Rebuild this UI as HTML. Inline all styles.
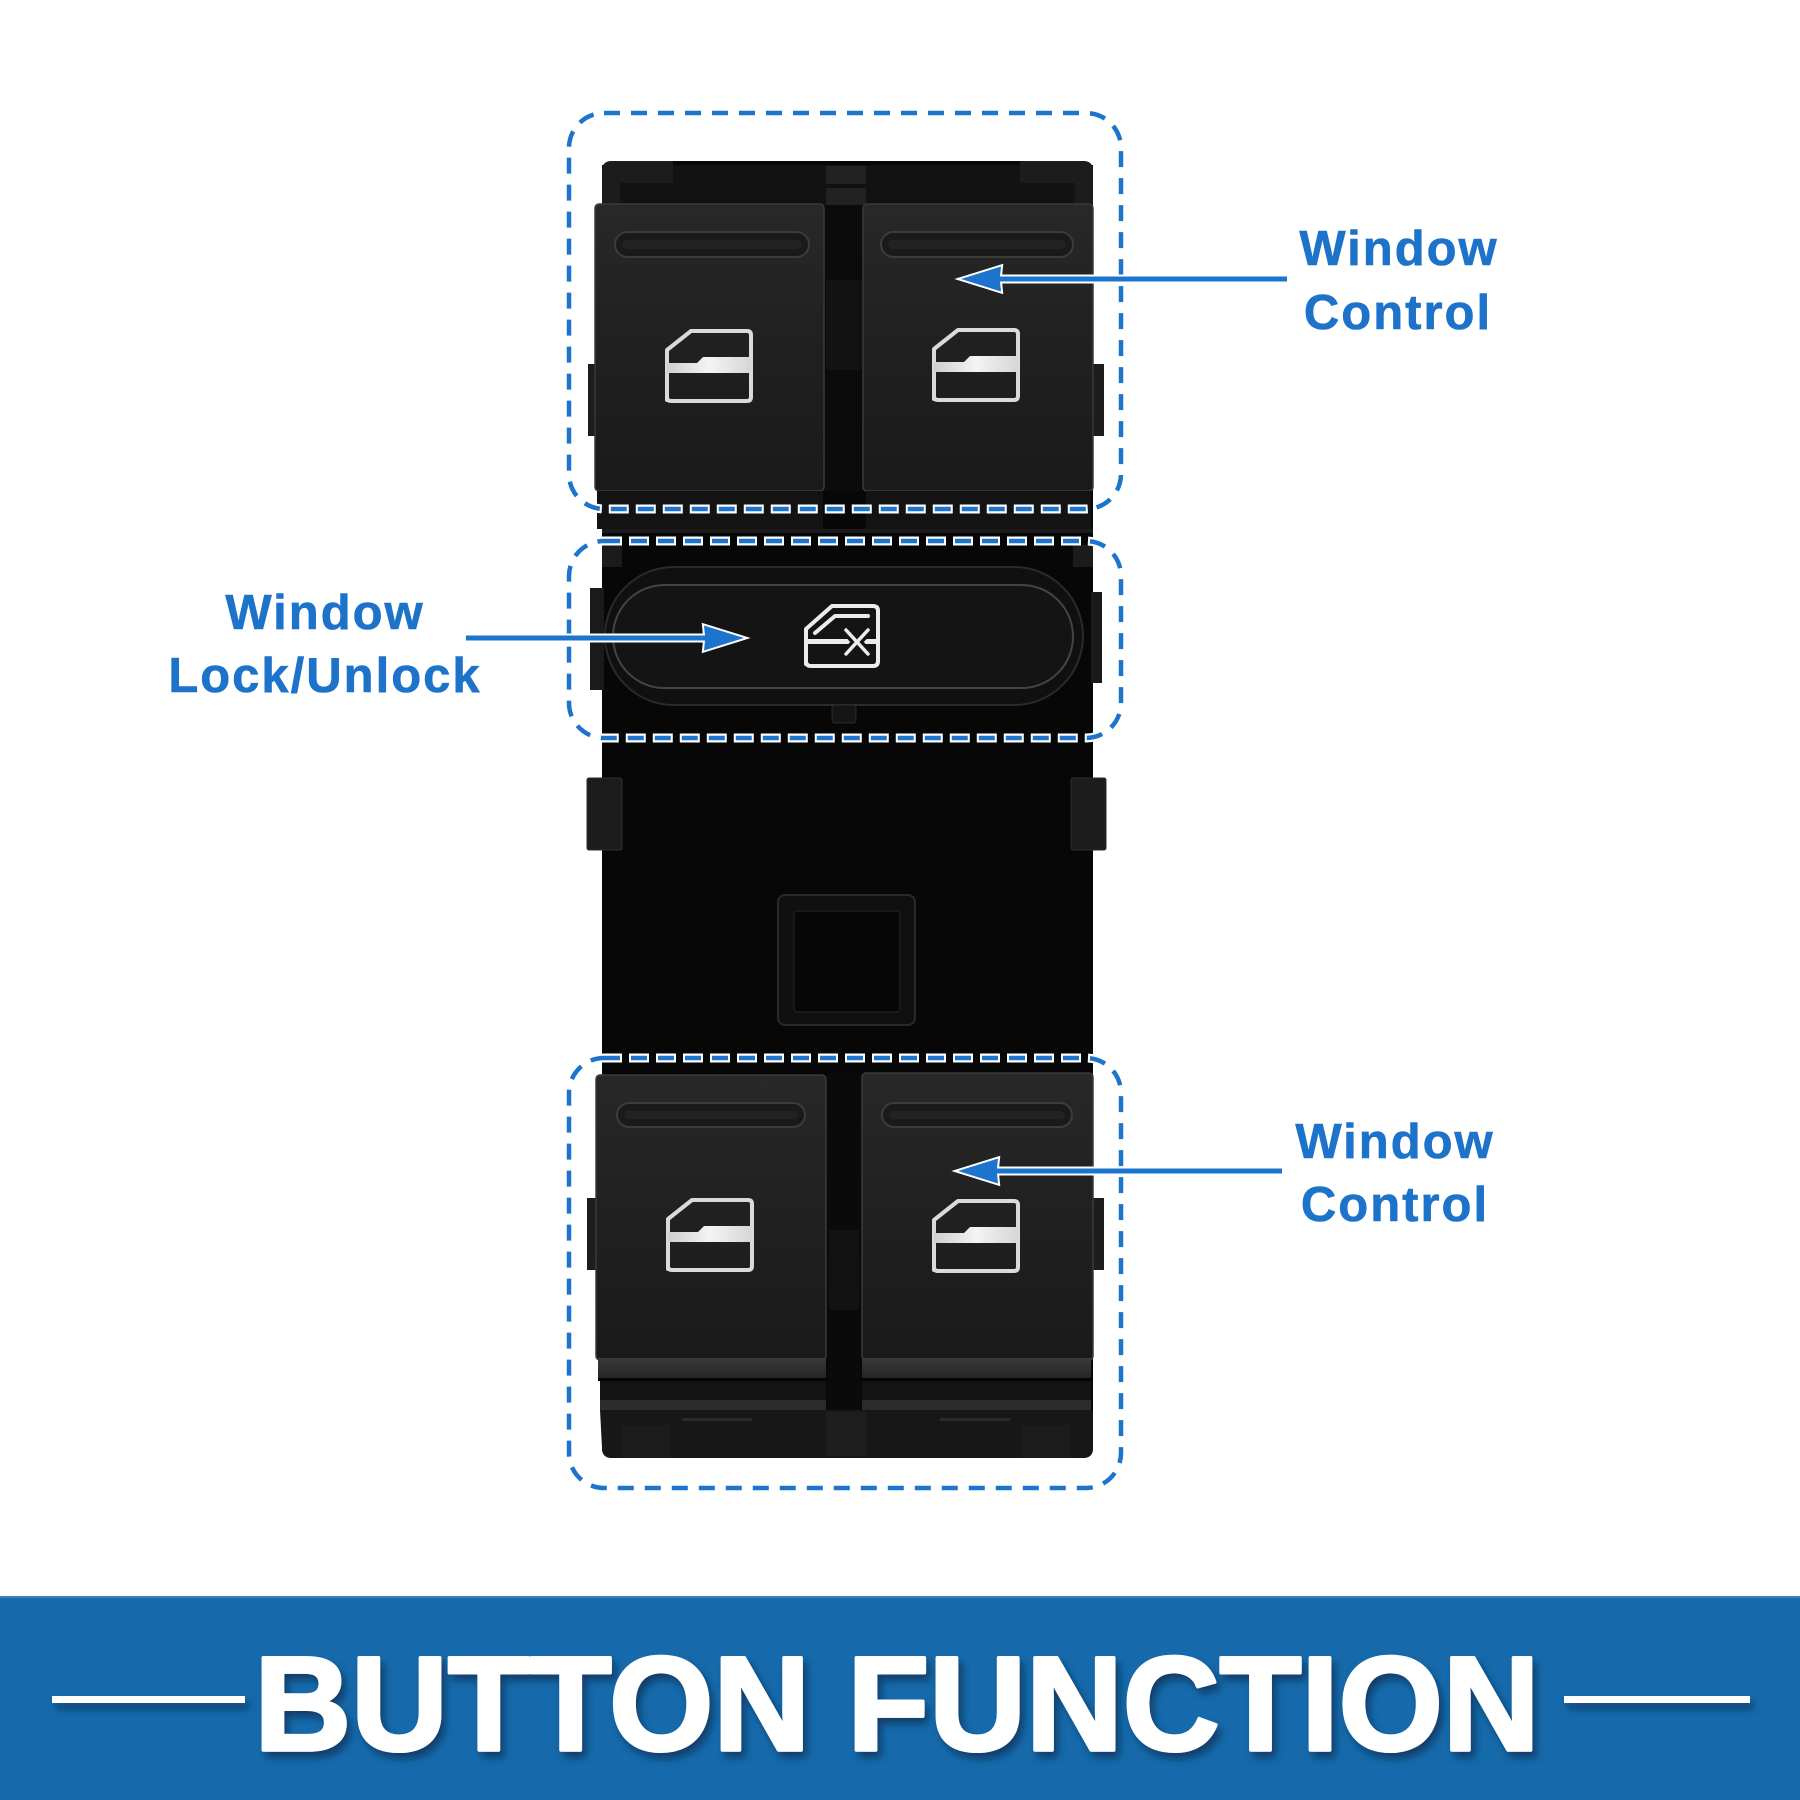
<!DOCTYPE html>
<html><head><meta charset="utf-8"><style>
html,body{margin:0;padding:0;background:#fff;}
svg{display:block;}
</style></head><body>
<svg width="1800" height="1800" viewBox="0 0 1800 1800" xmlns="http://www.w3.org/2000/svg">
<defs>
  <linearGradient id="btn" x1="0" y1="0" x2="0" y2="1">
    <stop offset="0" stop-color="#282828"/>
    <stop offset="0.45" stop-color="#212121"/>
    <stop offset="1" stop-color="#1a1a1a"/>
  </linearGradient>
  <linearGradient id="lip" x1="0" y1="0" x2="0" y2="1">
    <stop offset="0" stop-color="#3a3a3a"/>
    <stop offset="1" stop-color="#262626"/>
  </linearGradient>
  <linearGradient id="bar" x1="0" y1="0" x2="1" y2="0">
    <stop offset="0" stop-color="#cfcfcf"/>
    <stop offset="0.5" stop-color="#f4f4f4"/>
    <stop offset="1" stop-color="#d6d6d6"/>
  </linearGradient>
  <filter id="sh" x="-5%" y="-20%" width="110%" height="150%">
    <feDropShadow dx="4" dy="6" stdDeviation="4" flood-color="#0a355e" flood-opacity="0.85"/>
  </filter>
</defs>

<rect width="1800" height="1800" fill="#ffffff"/>

<!-- ===== DEVICE BODY ===== -->
<path d="M612,161 L1083,161 Q1093,161 1093,171 L1093,1448 Q1093,1458 1083,1458 L612,1458 Q602,1458 602,1448 L602,171 Q602,161 612,161 Z" fill="#070707"/>

<!-- top base region -->
<rect x="602" y="165" width="491" height="40" fill="#121212"/>
<path d="M612,161 L673,161 L673,183 L620,183 L620,205 L602,205 L602,171 Q602,161 612,161 Z" fill="#1c1c1c"/>
<path d="M1020,161 L1083,161 Q1093,161 1093,171 L1093,205 L1075,205 L1075,183 L1020,183 Z" fill="#1c1c1c"/>
<rect x="826" y="166" width="40" height="39" fill="#222"/>
<rect x="826" y="184" width="40" height="4" fill="#111"/>
<rect x="824" y="205" width="39" height="286" fill="#0b0b0b"/>
<rect x="826" y="280" width="36" height="90" fill="#121212"/>

<!-- top side tabs -->
<rect x="588" y="364" width="9" height="72" fill="#1d1d1d"/>
<rect x="1093" y="364" width="11" height="72" fill="#1d1d1d"/>

<!-- top buttons -->
<rect x="595" y="204" width="229" height="287" rx="4" fill="url(#btn)" stroke="#3a3a3a" stroke-width="1.5"/>
<rect x="863" y="204" width="230" height="287" rx="4" fill="url(#btn)" stroke="#3a3a3a" stroke-width="1.5"/>
<!-- grooves -->
<rect x="615" y="232" width="194" height="25" rx="12.5" fill="#1a1a1a" stroke="#3c3c3c" stroke-width="2"/>
<rect x="622" y="240" width="180" height="9" rx="4.5" fill="#222"/>
<rect x="881" y="232" width="192" height="25" rx="12.5" fill="#1a1a1a" stroke="#3c3c3c" stroke-width="2"/>
<rect x="888" y="240" width="178" height="9" rx="4.5" fill="#222"/>

<!-- window icons (top) -->
<g>
  <path d="M667,400 L667,350 L691,331 L747,331 Q751,331 751,335 L751,397 Q751,401 747,401 L671,401 Q667,401 667,397 Z" fill="none" stroke="#dadada" stroke-width="4" stroke-linejoin="round"/>
  <path d="M667,363 L697,363 L703,357 L751,357 L751,373 L667,373 Z" fill="url(#bar)"/>
</g>
<g transform="translate(267,-1)">
  <path d="M667,400 L667,350 L691,331 L747,331 Q751,331 751,335 L751,397 Q751,401 747,401 L671,401 Q667,401 667,397 Z" fill="none" stroke="#dadada" stroke-width="4" stroke-linejoin="round"/>
  <path d="M667,363 L697,363 L703,357 L751,357 L751,373 L667,373 Z" fill="url(#bar)"/>
</g>

<!-- between top buttons and lock -->
<rect x="597" y="491" width="226" height="38" fill="#131313"/>
<rect x="866" y="491" width="225" height="38" fill="#131313"/>
<rect x="602" y="529" width="491" height="4" fill="#1b1b1b"/>
<rect x="602" y="545" width="20" height="22" fill="#1b1b1b"/>
<rect x="1073" y="545" width="20" height="22" fill="#1b1b1b"/>

<!-- lock side tabs -->
<rect x="590" y="588" width="14" height="102" fill="#1a1a1a"/>
<rect x="1091" y="592" width="11" height="91" fill="#1a1a1a"/>

<!-- lock pill -->
<rect x="605" y="567" width="478" height="138" rx="69" fill="#101010" stroke="#2a2a2a" stroke-width="2"/>
<rect x="613" y="585" width="460" height="103" rx="51.5" fill="#141414" stroke="#444" stroke-width="2"/>
<rect x="832" y="705" width="24" height="18" rx="3" fill="#151515" stroke="#2a2a2a"/>

<!-- lock icon -->
<g>
  <path d="M806,664 L806,629 L832,606 L873,606 Q878,606 878,611 L878,661 Q878,666 873,666 L811,666 Q806,666 806,661 Z" fill="none" stroke="#ececec" stroke-width="4" stroke-linejoin="round"/>
  <path d="M815,633 L835,616 L868,616" fill="none" stroke="#ececec" stroke-width="4" stroke-linecap="round" stroke-linejoin="round"/>
  <rect x="806" y="639" width="72" height="5" fill="#ececec"/>
  <path d="M845,629 L869,655 M869,629 L845,655" stroke="#151515" stroke-width="10" stroke-linecap="round"/>
  <path d="M846,630 L868,654 M868,630 L846,654" stroke="#ececec" stroke-width="3.5" stroke-linecap="round"/>
</g>

<!-- middle tabs -->
<rect x="587" y="778" width="35" height="72" rx="2" fill="#1c1c1c" stroke="#2e2e2e"/>
<rect x="1071" y="778" width="35" height="72" rx="2" fill="#1c1c1c" stroke="#2e2e2e"/>

<!-- square -->
<rect x="778" y="895" width="137" height="130" rx="7" fill="#101010" stroke="#2a2a2a" stroke-width="2"/>
<rect x="794" y="911" width="106" height="101" rx="3" fill="#060606" stroke="#1e1e1e" stroke-width="1.5"/>

<!-- bottom section -->
<rect x="827" y="1073" width="34" height="340" fill="#0a0a0a"/>
<rect x="829" y="1230" width="30" height="80" fill="#121212"/>
<rect x="587" y="1198" width="10" height="72" fill="#1d1d1d"/>
<rect x="1093" y="1198" width="11" height="72" fill="#1d1d1d"/>

<rect x="596" y="1075" width="230" height="285" rx="4" fill="url(#btn)" stroke="#3a3a3a" stroke-width="1.5"/>
<rect x="862" y="1073" width="231" height="287" rx="4" fill="url(#btn)" stroke="#3a3a3a" stroke-width="1.5"/>
<rect x="617" y="1103" width="188" height="24" rx="12" fill="#1a1a1a" stroke="#3c3c3c" stroke-width="2"/>
<rect x="624" y="1111" width="174" height="8" rx="4" fill="#222"/>
<rect x="882" y="1103" width="190" height="24" rx="12" fill="#1a1a1a" stroke="#3c3c3c" stroke-width="2"/>
<rect x="889" y="1111" width="176" height="8" rx="4" fill="#222"/>

<g transform="translate(1,869)">
  <path d="M667,400 L667,350 L691,331 L747,331 Q751,331 751,335 L751,397 Q751,401 747,401 L671,401 Q667,401 667,397 Z" fill="none" stroke="#dadada" stroke-width="4" stroke-linejoin="round"/>
  <path d="M667,363 L697,363 L703,357 L751,357 L751,373 L667,373 Z" fill="url(#bar)"/>
</g>
<g transform="translate(267,870)">
  <path d="M667,400 L667,350 L691,331 L747,331 Q751,331 751,335 L751,397 Q751,401 747,401 L671,401 Q667,401 667,397 Z" fill="none" stroke="#dadada" stroke-width="4" stroke-linejoin="round"/>
  <path d="M667,363 L697,363 L703,357 L751,357 L751,373 L667,373 Z" fill="url(#bar)"/>
</g>

<!-- bottom lips -->
<rect x="598" y="1358" width="228" height="20" fill="url(#lip)"/>
<rect x="862" y="1358" width="229" height="20" fill="url(#lip)"/>
<rect x="598" y="1378" width="228" height="3" fill="#050505"/>
<rect x="862" y="1378" width="229" height="3" fill="#050505"/>
<rect x="600" y="1381" width="226" height="19" fill="#131313"/>
<rect x="862" y="1381" width="229" height="19" fill="#131313"/>
<rect x="600" y="1400" width="226" height="10" fill="#2c2c2c"/>
<rect x="862" y="1400" width="229" height="10" fill="#2c2c2c"/>
<!-- base -->
<path d="M600,1410 L1093,1410 L1093,1448 Q1093,1458 1083,1458 L612,1458 Q602,1458 602,1448 Z" fill="#171717"/>
<rect x="826" y="1412" width="40" height="44" fill="#1e1e1e"/>
<rect x="622" y="1425" width="48" height="33" fill="#1c1c1c"/>
<rect x="1022" y="1425" width="48" height="33" fill="#1c1c1c"/>
<rect x="682" y="1418" width="70" height="3" fill="#2a2a2a"/>
<rect x="940" y="1418" width="70" height="3" fill="#2a2a2a"/>

<!-- ===== DASHED BOXES ===== -->
<g fill="none">
  <g stroke="#ffffff" stroke-width="9" stroke-dasharray="20 7" stroke-dashoffset="2">
    <rect x="569" y="113" width="552" height="396" rx="35"/>
    <rect x="569" y="541" width="552" height="197" rx="35"/>
    <rect x="569" y="1058" width="552" height="430" rx="35"/>
  </g>
  <g stroke="#1c74cc" stroke-width="4.5" stroke-dasharray="16 11">
    <rect x="569" y="113" width="552" height="396" rx="35"/>
    <rect x="569" y="541" width="552" height="197" rx="35"/>
    <rect x="569" y="1058" width="552" height="430" rx="35"/>
  </g>
</g>

<!-- ===== ARROWS ===== -->
<g fill="#1c74cc" stroke="#ffffff" stroke-width="4" stroke-linejoin="miter" paint-order="stroke">
  <path d="M961,279 L1001,266.5 L1000,276.5 L1287,276.5 L1287,281.5 L1000,281.5 L1001,291.5 Z"/>
  <path d="M744,638 L704,625.5 L705,635.5 L466,635.5 L466,640.5 L705,640.5 L704,650.5 Z"/>
  <path d="M958,1171 L998,1158.5 L997,1168.5 L1282,1168.5 L1282,1173.5 L997,1173.5 L998,1183.5 Z"/>
</g>

<!-- ===== LABELS ===== -->
<g font-family="'Liberation Sans', Arial, sans-serif" font-weight="bold" font-size="49" fill="#1d73c9" text-anchor="middle" letter-spacing="2" stroke="#1d73c9" stroke-width="0.6">
  <text x="1399" y="265">Window</text>
  <text x="1398" y="329">Control</text>
  <text x="325" y="629">Window</text>
  <text x="325" y="692">Lock/Unlock</text>
  <text x="1395" y="1158">Window</text>
  <text x="1395" y="1221">Control</text>
</g>

<!-- ===== BANNER ===== -->
<rect x="0" y="1596" width="1800" height="204" fill="#166aab"/>
<rect x="0" y="1596" width="1800" height="2" fill="#3d83bb"/>
<g filter="url(#sh)">
  <rect x="52" y="1696" width="193" height="7" fill="#ffffff"/>
  <rect x="1564" y="1696" width="186" height="7" fill="#ffffff"/>
  <text x="897" y="1750" font-family="'Liberation Sans', Arial, sans-serif" font-weight="bold" font-size="134" fill="#ffffff" stroke="#ffffff" stroke-width="3.5" stroke-linejoin="round" text-anchor="middle">BUTTON FUNCTION</text>
</g>
</svg>
</body></html>
